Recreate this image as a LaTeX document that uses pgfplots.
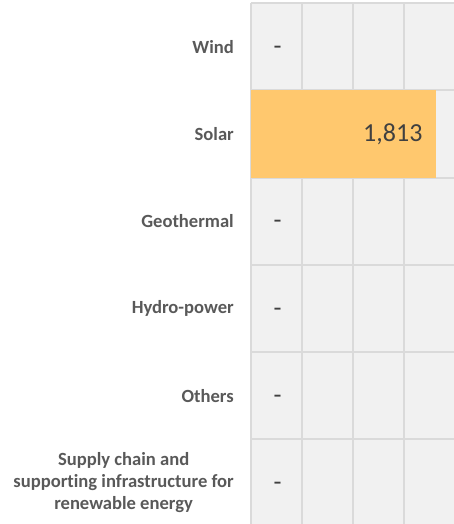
\documentclass[border=0pt]{standalone}
\usepackage{pgfplots}
\pgfplotsset{compat=1.18}
\usepackage{fontspec}
\setmainfont{Carlito}[Ligatures=NoCommon]
\definecolor{bg}{HTML}{F1F1F1}
\definecolor{gridc}{HTML}{DADADA}
\definecolor{barc}{HTML}{FFC86E}
\definecolor{lab}{HTML}{595959}
\definecolor{val}{HTML}{404040}
\begin{document}
\begin{tikzpicture}
\begin{axis}[
  at={(0,0)}, anchor=south west,
  scale only axis, width=203bp, height=521bp,
  xmin=0, xmax=1990, ymin=-0.5, ymax=5.47, y dir=reverse,
  axis background/.style={fill=bg},
  axis line style={draw=none},
  xtick={0,500,1000,1500}, xticklabels={},
  ytick={0,1,2,3,4,5},
  yticklabels={Wind,Solar,Geothermal,Hydro-power,Others,{Supply chain and\\supporting infrastructure for\\renewable energy}},
  minor ytick={-0.5,0.5,1.5,2.5,3.5,4.5,5.5},
  xmajorgrids, yminorgrids,
  major grid style={gridc, line width=2bp},
  minor grid style={gridc, line width=2bp},
  major tick length=0pt, minor tick length=0pt,
  yticklabel style={font=\fontsize{18.6bp}{22bp}\selectfont\bfseries, text=lab, align=center, inner sep=0pt, anchor=east, xshift=-17bp},
]
\addplot[xbar, bar width=1, bar shift=0, fill=barc, draw=none,
  nodes near coords={1,813},
  every node near coord/.append style={anchor=east, xshift=-10bp, font=\fontsize{26bp}{30bp}\selectfont, text=val}]
  coordinates {(1813,1)};
\addplot[draw=none, mark=none,
  nodes near coords={-},
  every node near coord/.append style={anchor=center, xshift=26.5bp, yshift=-3.5bp, font=\fontsize{26bp}{30bp}\selectfont, text=val}]
  coordinates {(0,0) (0,2) (0,3) (0,4) (0,5)};
\end{axis}
\pgfresetboundingbox
\path[use as bounding box] (-251bp,0) rectangle (203bp,524bp);
\end{tikzpicture}
\end{document}
